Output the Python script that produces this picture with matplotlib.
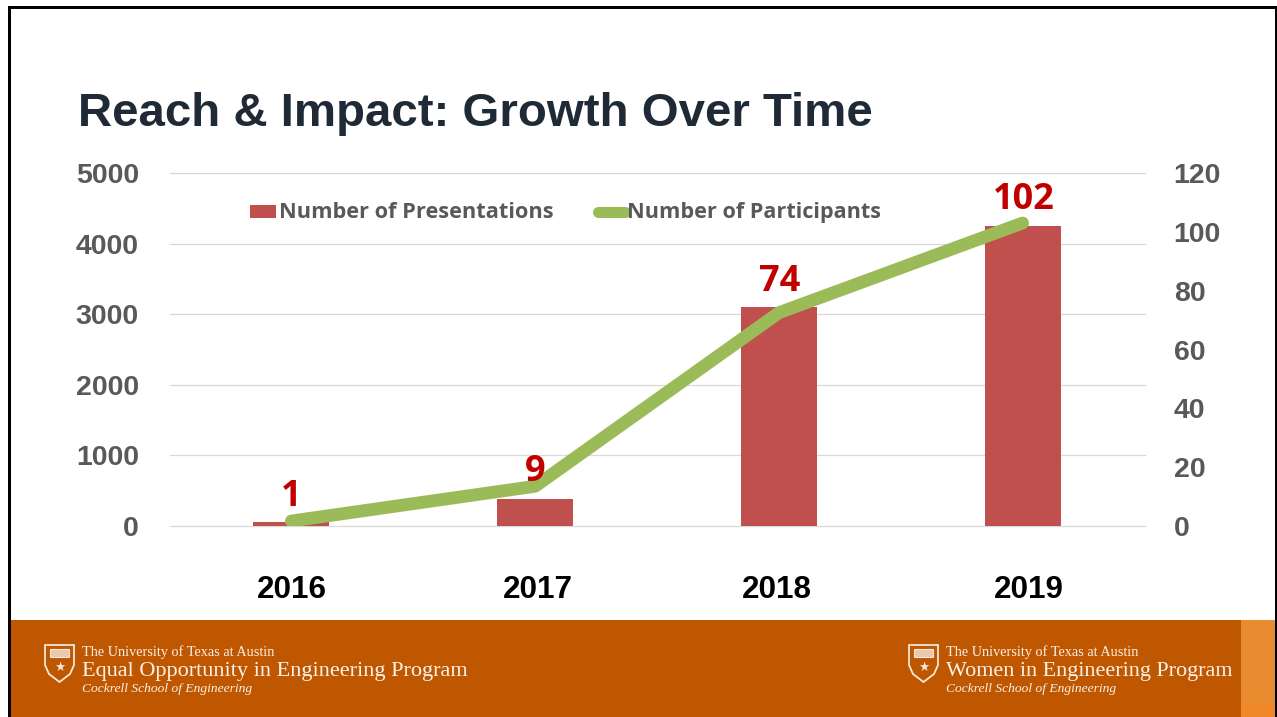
from __future__ import annotations

import matplotlib

matplotlib.use("Agg")
import matplotlib.pyplot as plt
from matplotlib.patches import Polygon, Rectangle
from matplotlib.transforms import ScaledTranslation

W, H = 1277, 717

years = ["2016", "2017", "2018", "2019"]
presentations = [50, 380, 3100, 4250]
participants = [1.7, 13.5, 72.5, 103]
point_labels = ["1", "9", "74", "102"]
left_ticks = [0, 1000, 2000, 3000, 4000, 5000]
right_ticks = [0, 20, 40, 60, 80, 100, 120]

BAR = "#C0504D"
LINE = "#9BBB59"
GREY = "#595959"
GRID = "#D9D9D9"
RED = "#C00000"
ORANGE = "#BF5700"

fig = plt.figure(figsize=(W / 100, H / 100), dpi=100, facecolor="white")

# ---------------------------------------------------------------------------
# Slide background in pixel coordinates
# ---------------------------------------------------------------------------
bg = fig.add_axes([0, 0, 1, 1], zorder=0)
bg.set_xlim(0, W)
bg.set_ylim(H, 0)
bg.axis("off")

bg.add_patch(Rectangle((11, 620), 1230, 97, color=ORANGE, lw=0))
bg.add_patch(Rectangle((1241, 620), 34, 83, color="#E98B2F", lw=0))
bg.add_patch(Rectangle((1241, 703), 34, 14, color="#F0882A", lw=0))
bg.add_patch(Rectangle((8, 6), 3, 711, color="black", lw=0))
bg.add_patch(Rectangle((8, 6), 1269, 2.5, color="black", lw=0))
bg.add_patch(Rectangle((1275, 6), 2, 711, color="black", lw=0))

bg.text(78, 126, "Reach & Impact: Growth Over Time", fontsize=34.1, fontweight="bold",
        family="Liberation Sans", color="#1F2A36", va="baseline", ha="left")


def draw_footer(x_shield, x_text, program, size):
    shield = [(0, 0), (29, 0), (29, 20), (25, 29), (14.5, 37), (4, 29), (0, 20)]
    pts = [(x_shield + a, 645 + b) for a, b in shield]
    bg.add_patch(Polygon(pts, closed=True, fc=ORANGE, ec="#F6E7D8", lw=1.3))
    bg.add_patch(Rectangle((x_shield + 5, 649), 19, 8, fc="#E9C9AE", ec="#F6E7D8", lw=0.8))
    bg.text(x_shield + 14.5, 667, "★", fontsize=9, color="#F6E7D8", ha="center", va="center",
            family="DejaVu Sans")
    bg.text(x_text, 656, "The University of Texas at Austin", fontsize=10.3,
            family="Liberation Serif", color="#FBF1E8", va="baseline", ha="left")
    bg.text(x_text, 676, program, fontsize=size,
            family="Liberation Serif", color="#FBF1E8", va="baseline", ha="left")
    bg.text(x_text, 692, "Cockrell School of Engineering", fontsize=9.7, style="italic",
            family="Liberation Serif", color="#FBF1E8", va="baseline", ha="left")


draw_footer(45, 82, "Equal Opportunity in Engineering Program", 16.05)
draw_footer(909, 946, "Women in Engineering Program", 15.9)

# ---------------------------------------------------------------------------
# Chart
# ---------------------------------------------------------------------------
ax_left, ax_right, ax_top, ax_bottom = 169.5, 1144.5, 173, 526
ax = fig.add_axes(
    [ax_left / W, 1 - ax_bottom / H, (ax_right - ax_left) / W, (ax_bottom - ax_top) / H],
    zorder=1,
)
ax.patch.set_alpha(0)
x = list(range(len(years)))
ax.bar(x, presentations, width=0.312, color=BAR, zorder=2)
ax.set_xlim(-0.5, 3.5)
ax.set_ylim(0, 5000)
ax.set_yticks(left_ticks)
ax.set_xticks(x)
ax.set_xticklabels(years)
ax.grid(axis="y", color=GRID, lw=0.9, zorder=0, clip_on=False)
ax.set_axisbelow(True)
for spine in ax.spines.values():
    spine.set_visible(False)
ax.tick_params(axis="both", length=0)
ax.tick_params(axis="y", labelsize=20.5, labelcolor=GREY, pad=22)
ax.tick_params(axis="x", labelsize=22.6, labelcolor="black", pad=35)
for lab in ax.get_yticklabels():
    lab.set_fontweight("bold")
    lab.set_family("Liberation Sans")
# year labels are not quite centred under the bars in the original (pixels)
year_shift = [0, 2.5, -2, 6]
for lab, dx in zip(ax.get_xticklabels(), year_shift):
    lab.set_fontweight("bold")
    lab.set_family("Liberation Sans")
    lab.set_transform(lab.get_transform() + ScaledTranslation(dx / 100, 0, fig.dpi_scale_trans))

ax2 = ax.twinx()
ax2.patch.set_alpha(0)
ax2.plot(x, participants, color=LINE, lw=9.2, solid_capstyle="round", solid_joinstyle="round", zorder=3)
ax2.set_ylim(0, 120)
ax2.set_yticks(right_ticks)
for spine in ax2.spines.values():
    spine.set_visible(False)
ax2.tick_params(axis="y", length=0, labelsize=20.5, labelcolor=GREY, pad=21)
for lab in ax2.get_yticklabels():
    lab.set_fontweight("bold")
    lab.set_family("Liberation Sans")

# value labels sit a little off the line, offsets in pixels (72/100 pt)
label_offsets = [(0, 6), (0, -4), (1, 13), (1, 5)]
for xi, yi, text, off in zip(x, participants, point_labels, label_offsets):
    ax2.annotate(text, (xi, yi), xytext=(off[0] * 0.72, off[1] * 0.72), textcoords="offset points",
                 ha="center", va="bottom", fontsize=26, fontweight="bold", color=RED,
                 family="Open Sans", zorder=4)

# legend drawn by hand on the overlay, the keys touch the text in the original
overlay = fig.add_axes([0, 0, 1, 1], zorder=2)
overlay.set_xlim(0, W)
overlay.set_ylim(H, 0)
overlay.axis("off")
overlay.add_patch(Rectangle((250, 205), 26, 13, color=BAR, lw=0))
overlay.plot([598, 625], [211.5, 211.5], color=LINE, lw=8, solid_capstyle="round")
overlay.text(279, 218, "Number of Presentations", fontsize=15.7, fontweight="bold",
             family="Open Sans", color=GREY, va="baseline", ha="left")
overlay.text(627, 218, "Number of Participants", fontsize=15.6, fontweight="bold",
             family="Open Sans", color=GREY, va="baseline", ha="left")

fig.savefig("out.png", dpi=100)
